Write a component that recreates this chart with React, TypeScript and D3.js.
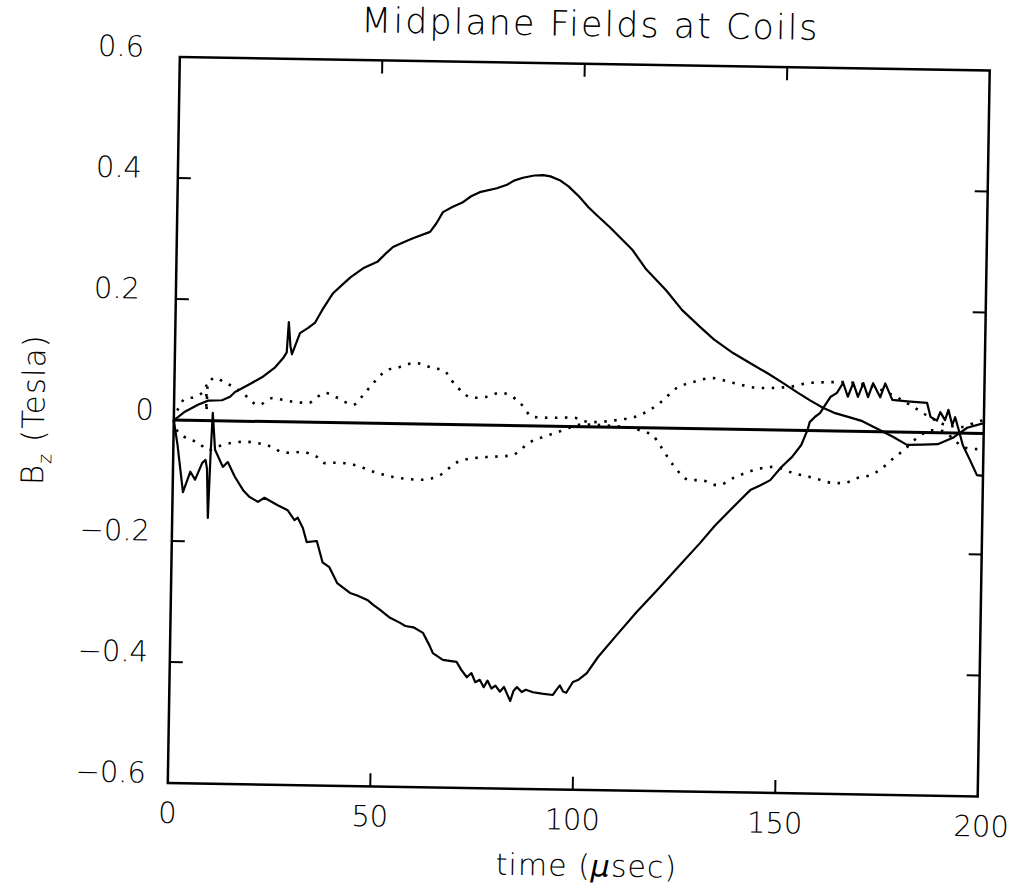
import React from "react";
import * as d3 from "d3";

// ---- data (time in µsec, Bz in Tesla) ----
const upperSolidT = [0, 1, 2.7, 5.9, 8.4, 11.8, 13.8, 15, 18.2, 21.6, 24.8, 26.7, 27.6, 28, 28.5, 28.9, 30.8, 32.8, 34.5, 36.2, 38.8, 41, 43.1, 46.1, 49.6, 51.5, 53.4, 56, 58.3, 62.5, 64, 65.6, 68, 70.5, 72.5, 74.6, 78.8, 81.3, 83, 85.2, 88, 90.2, 92, 94.3, 96.5, 99.2, 101.5, 103.6, 106.8, 112.5, 116, 121, 125, 129.6, 133, 137.8, 142, 146.3, 150, 154, 157, 160.2, 163, 166.9, 170, 172.7, 177.6, 181.1, 185, 188.7, 192.4, 195.9, 200];
const upperSolidV = [0, 0.005, 0.014, 0.026, 0.033, 0.034, 0.04, 0.048, 0.06, 0.073, 0.09, 0.105, 0.115, 0.165, 0.125, 0.112, 0.147, 0.156, 0.165, 0.186, 0.214, 0.228, 0.241, 0.256, 0.267, 0.28, 0.292, 0.3, 0.307, 0.318, 0.332, 0.351, 0.36, 0.368, 0.378, 0.385, 0.392, 0.398, 0.405, 0.41, 0.414, 0.415, 0.413, 0.407, 0.397, 0.38, 0.363, 0.35, 0.331, 0.294, 0.262, 0.228, 0.196, 0.168, 0.148, 0.126, 0.11, 0.094, 0.079, 0.062, 0.05, 0.038, 0.03, 0.023, 0.017, 0.008, -0.008, -0.021, -0.02, -0.019, -0.008, 0.009, 0.017];

const lowerSolidT = [0, 1, 2.55, 4.3, 5.5, 7.2, 8, 8.4, 8.8, 9.2, 9.6, 10.3, 12.3, 13.5, 15.3, 17.4, 19, 21.1, 22.7, 26, 28.5, 30.2, 31, 32.3, 33.3, 35.8, 37.3, 39, 41, 44.2, 46, 48.5, 50, 51.7, 54.2, 56.7, 58, 60, 62.4, 64, 64.9, 67.4, 70.8, 72, 73.4, 74.5, 75.5, 76.6, 77.6, 78.5, 79.5, 80.5, 81.6, 82.6, 83.5, 84.2, 85, 85.8, 87, 88, 89.8, 92, 94.7, 95.6, 96.4, 97.2, 98, 99.6, 101, 103, 105.7, 110, 115, 120, 125, 130.4, 134, 137.1, 140, 142.6, 145, 147.5, 150.2, 152.8, 155, 156.5, 157, 158.3, 159.5, 160.3, 162, 163.6, 165.1, 166.3, 167.6, 168.8, 170.1, 171.3, 172.5, 174.3, 175.5, 177.3, 181, 185.9, 186.8, 188.4, 189.2, 190.4, 191.2, 192.2, 192.9, 193.7, 194.9, 196.7, 198.5, 200];
const lowerSolidV = [0, -0.04, -0.119, -0.085, -0.098, -0.07, -0.065, -0.08, -0.161, -0.06, 0.013, -0.048, -0.076, -0.068, -0.092, -0.114, -0.125, -0.133, -0.126, -0.138, -0.146, -0.162, -0.158, -0.175, -0.198, -0.196, -0.231, -0.239, -0.265, -0.281, -0.285, -0.292, -0.3, -0.308, -0.321, -0.329, -0.334, -0.336, -0.345, -0.365, -0.378, -0.389, -0.392, -0.405, -0.417, -0.41, -0.425, -0.421, -0.433, -0.422, -0.435, -0.43, -0.44, -0.432, -0.445, -0.455, -0.438, -0.432, -0.44, -0.436, -0.44, -0.442, -0.444, -0.435, -0.428, -0.438, -0.44, -0.422, -0.418, -0.407, -0.38, -0.345, -0.305, -0.268, -0.23, -0.189, -0.16, -0.138, -0.118, -0.1, -0.092, -0.083, -0.061, -0.044, -0.024, 0.001, 0.014, 0.023, 0.029, 0.038, 0.056, 0.063, 0.08, 0.057, 0.08, 0.057, 0.08, 0.057, 0.08, 0.057, 0.08, 0.053, 0.051, 0.049, 0.026, 0.02, 0.034, 0.021, 0.038, 0.013, 0.026, 0.008, -0.02, -0.044, -0.069, -0.07];

const upperDottedT = [0, 1.1, 2.6, 5.1, 7.6, 7.9, 8, 8.2, 10, 12.5, 15, 17.5, 20.8, 24.3, 27, 30, 33.1, 37.2, 40.4, 44.2, 46.6, 48.3, 52.4, 55.6, 59.3, 63.8, 66.3, 69.3, 73.7, 77.2, 80.5, 82.9, 85.4, 88.6, 92.8, 98.5, 102.7, 109.3, 115.1, 120, 124.1, 128, 132.9, 137.8, 144.5, 151.2, 157.2, 165.4, 172, 178.8, 182.5, 186.5, 190.6, 194.7, 198.2, 200];
const upperDottedV = [0, 0.02, 0.035, 0.039, 0.051, 0.058, 0.015, 0.058, 0.071, 0.063, 0.055, 0.043, 0.027, 0.039, 0.036, 0.033, 0.032, 0.049, 0.041, 0.03, 0.046, 0.06, 0.088, 0.094, 0.101, 0.093, 0.09, 0.066, 0.045, 0.047, 0.054, 0.05, 0.038, 0.015, 0.014, 0.015, 0.008, 0.012, 0.021, 0.042, 0.067, 0.077, 0.084, 0.077, 0.069, 0.071, 0.079, 0.081, 0.075, 0.056, 0.042, 0.026, 0.013, 0.01, 0.019, 0.022];

const lowerDottedT = [0, 0.3, 2.8, 6.2, 8.7, 10.4, 14.6, 17.9, 21, 24.4, 26.8, 28.8, 31.8, 33.3, 35.5, 37.4, 40.7, 44.6, 49.5, 54.4, 61.5, 65.9, 70.1, 75, 79, 83.6, 88, 92.9, 95.4, 101, 111, 116.4, 118.3, 120.1, 123.5, 127.6, 130.4, 134.6, 138.5, 143.4, 148.3, 153.3, 158.2, 163.2, 165.6, 169, 172.2, 175.1, 177.9, 180.3, 183.6, 187.5, 190, 192.5, 195, 197.4, 200];
const lowerDottedV = [0, -0.011, -0.028, -0.037, -0.049, -0.044, -0.036, -0.034, -0.036, -0.042, -0.05, -0.051, -0.049, -0.051, -0.057, -0.067, -0.066, -0.069, -0.08, -0.088, -0.092, -0.084, -0.062, -0.054, -0.052, -0.049, -0.027, -0.014, -0.008, 0.004, 0.001, -0.007, -0.012, -0.028, -0.061, -0.085, -0.085, -0.093, -0.08, -0.067, -0.061, -0.071, -0.078, -0.086, -0.086, -0.077, -0.072, -0.06, -0.043, -0.03, -0.009, 0.004, 0.003, -0.01, -0.023, -0.026, -0.026];

const baselineT = [0, 200];
const baselineV = [0, 0];

const xTicks = [0, 50, 100, 150, 200];
const xTickLabels = ["0", "50", "100", "150", "200"];
const yTicks = [0.6, 0.4, 0.2, 0, -0.2, -0.4, -0.6];
const yTickLabels = ["0.6", "0.4", "0.2", "0", "\u22120.2", "\u22120.4", "\u22120.6"];

const TITLE = "Midplane Fields at Coils";

type Pt = [number, number];
const zip = (t: number[], v: number[]): Pt[] => t.map((d, i) => [d, v[i]]);

export default function App() {
  const W = 1014, H = 892;
  const left = 173.75, top = 63.75, pw = 810, ph = 726;
  const cx = left + pw / 2, cy = top + ph / 2;
  const x = d3.scaleLinear().domain([0, 200]).range([left, left + pw]);
  const y = d3.scaleLinear().domain([-0.6, 0.6]).range([top + ph, top]);
  const lin = d3.line<Pt>().x(d => x(d[0])).y(d => y(d[1]));
  const smooth = d3.line<Pt>().x(d => x(d[0])).y(d => y(d[1])).curve(d3.curveMonotoneX);
  const font = "'DejaVu Sans', sans-serif";
  const fw = 200;
  const tl = 13;
  const labelX = (v: number) => (v > 0 ? left - 36 : v === 0 ? left - 20 : left - 22);
  return (
    <svg width={W} height={H} style={{ position: "absolute", left: 0, top: 0, background: "#fff" }}>
      <rect width={W} height={H} fill="#fff" />
      <g transform={`rotate(0.95 ${cx} ${cy})`} fontFamily={font} fontWeight={fw} fill="#000">
        <text x={cx + 5} y={36} fontSize={35} letterSpacing={2} textAnchor="middle">{TITLE}</text>
        {/* frame */}
        <rect x={left} y={top} width={pw} height={ph} fill="none" stroke="#000" strokeWidth={2.5} />
        {/* ticks */}
        {xTicks.slice(1, -1).map(t => (
          <g key={"xt" + t}>
            <line x1={x(t)} x2={x(t)} y1={top + ph} y2={top + ph - tl} stroke="#000" strokeWidth={2} />
            <line x1={x(t)} x2={x(t)} y1={top} y2={top + tl} stroke="#000" strokeWidth={2} />
          </g>
        ))}
        {yTicks.slice(1, -1).map(v => (
          <g key={"yt" + v}>
            <line x1={left} x2={left + tl} y1={y(v)} y2={y(v)} stroke="#000" strokeWidth={2} />
            <line x1={left + pw} x2={left + pw - tl} y1={y(v)} y2={y(v)} stroke="#000" strokeWidth={2} />
          </g>
        ))}
        {xTicks.map((t, i) => (
          <text key={"xl" + t} x={x(t) + (i === 4 ? 4 : 0)} y={top + ph + 40} fontSize={29} textAnchor="middle">{xTickLabels[i]}</text>
        ))}
        {yTicks.map((v, i) => (
          <text key={"yl" + v} x={labelX(v)} y={y(v) - 10} fontSize={29} textAnchor="end" dominantBaseline="central">{yTickLabels[i]}</text>
        ))}
        {/* axis titles */}
        <text x={cx + 15} y={876} fontSize={30} letterSpacing={1} textAnchor="middle">time (<tspan fontStyle="italic">μ</tspan>sec)</text>
        <text transform={`translate(44 ${cy - 8}) rotate(-90)`} fontSize={31} letterSpacing={1} textAnchor="middle">
          B<tspan fontSize={19} dy={8}>z</tspan><tspan dy={-8}> (Tesla)</tspan>
        </text>
        {/* data */}
        <path d={lin(zip(baselineT, baselineV)) || ""} fill="none" stroke="#000" strokeWidth={3} />
        <path d={smooth(zip(upperDottedT, upperDottedV)) || ""} fill="none" stroke="#000" strokeWidth={2.6} strokeDasharray="2.5 7.5" />
        <path d={smooth(zip(lowerDottedT, lowerDottedV)) || ""} fill="none" stroke="#000" strokeWidth={2.6} strokeDasharray="2.5 7.5" />
        <path d={lin(zip(upperSolidT, upperSolidV)) || ""} fill="none" stroke="#000" strokeWidth={2.2} strokeLinejoin="round" />
        <path d={lin(zip(lowerSolidT, lowerSolidV)) || ""} fill="none" stroke="#000" strokeWidth={2.2} strokeLinejoin="round" />
      </g>
    </svg>
  );
}
